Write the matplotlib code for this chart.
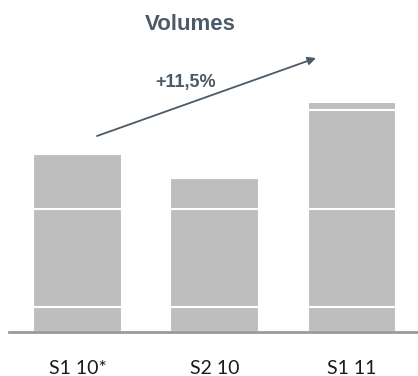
import matplotlib
matplotlib.use("Agg")
import matplotlib.pyplot as plt
import numpy as np

# periods and stacked segment heights (arbitrary units)
periods = ["S1 10*", "S2 10", "S1 11"]
seg_bottom = [25, 25, 25]
seg_middle = [98, 98, 98]
seg_top = [55, 31, 99]
seg_cap = [0, 0, 8]
growth_label = "+11,5%"

BAR = "#bebebe"
DARK = "#4b5a66"

fig = plt.figure(figsize=(4.18, 3.76), dpi=100)
ax = fig.add_axes([9 / 418, 44 / 376, 409 / 418, 292 / 376])

x = np.arange(len(periods))
bottom = np.zeros(len(periods))
for seg in (seg_bottom, seg_middle, seg_top, seg_cap):
    ax.bar(x, seg, bottom=bottom, width=0.648, color=BAR,
           edgecolor="white", linewidth=1.5)
    bottom += np.array(seg)

ax.set_xlim(-0.499, 2.481)
ax.set_ylim(0, 292)
for s in ("top", "right", "left"):
    ax.spines[s].set_visible(False)
ax.spines["bottom"].set_color("#999999")
ax.spines["bottom"].set_linewidth(2)
ax.set_yticks([])
ax.set_xticks(x)
ax.set_xticklabels(periods, fontsize=14, family="Lato", color="#1a1a1a",
                   va="baseline")
ax.tick_params(axis="x", length=0, pad=30)

# growth arrow
ax.annotate("", xy=(1.738, 274), xytext=(0.142, 196),
            arrowprops=dict(arrowstyle="-|>", color=DARK, lw=1.3,
                            mutation_scale=12, shrinkA=0, shrinkB=0),
            annotation_clip=False)
ax.text(0.791, 245, growth_label, ha="center", va="baseline", fontsize=13,
        fontweight="bold", family="Liberation Sans", color=DARK)

fig.text(190 / 418, 1 - 30 / 376, "Volumes", ha="center", va="baseline",
         fontsize=16, fontweight="bold", family="Liberation Sans", color=DARK)

fig.savefig("out.png", dpi=100)
